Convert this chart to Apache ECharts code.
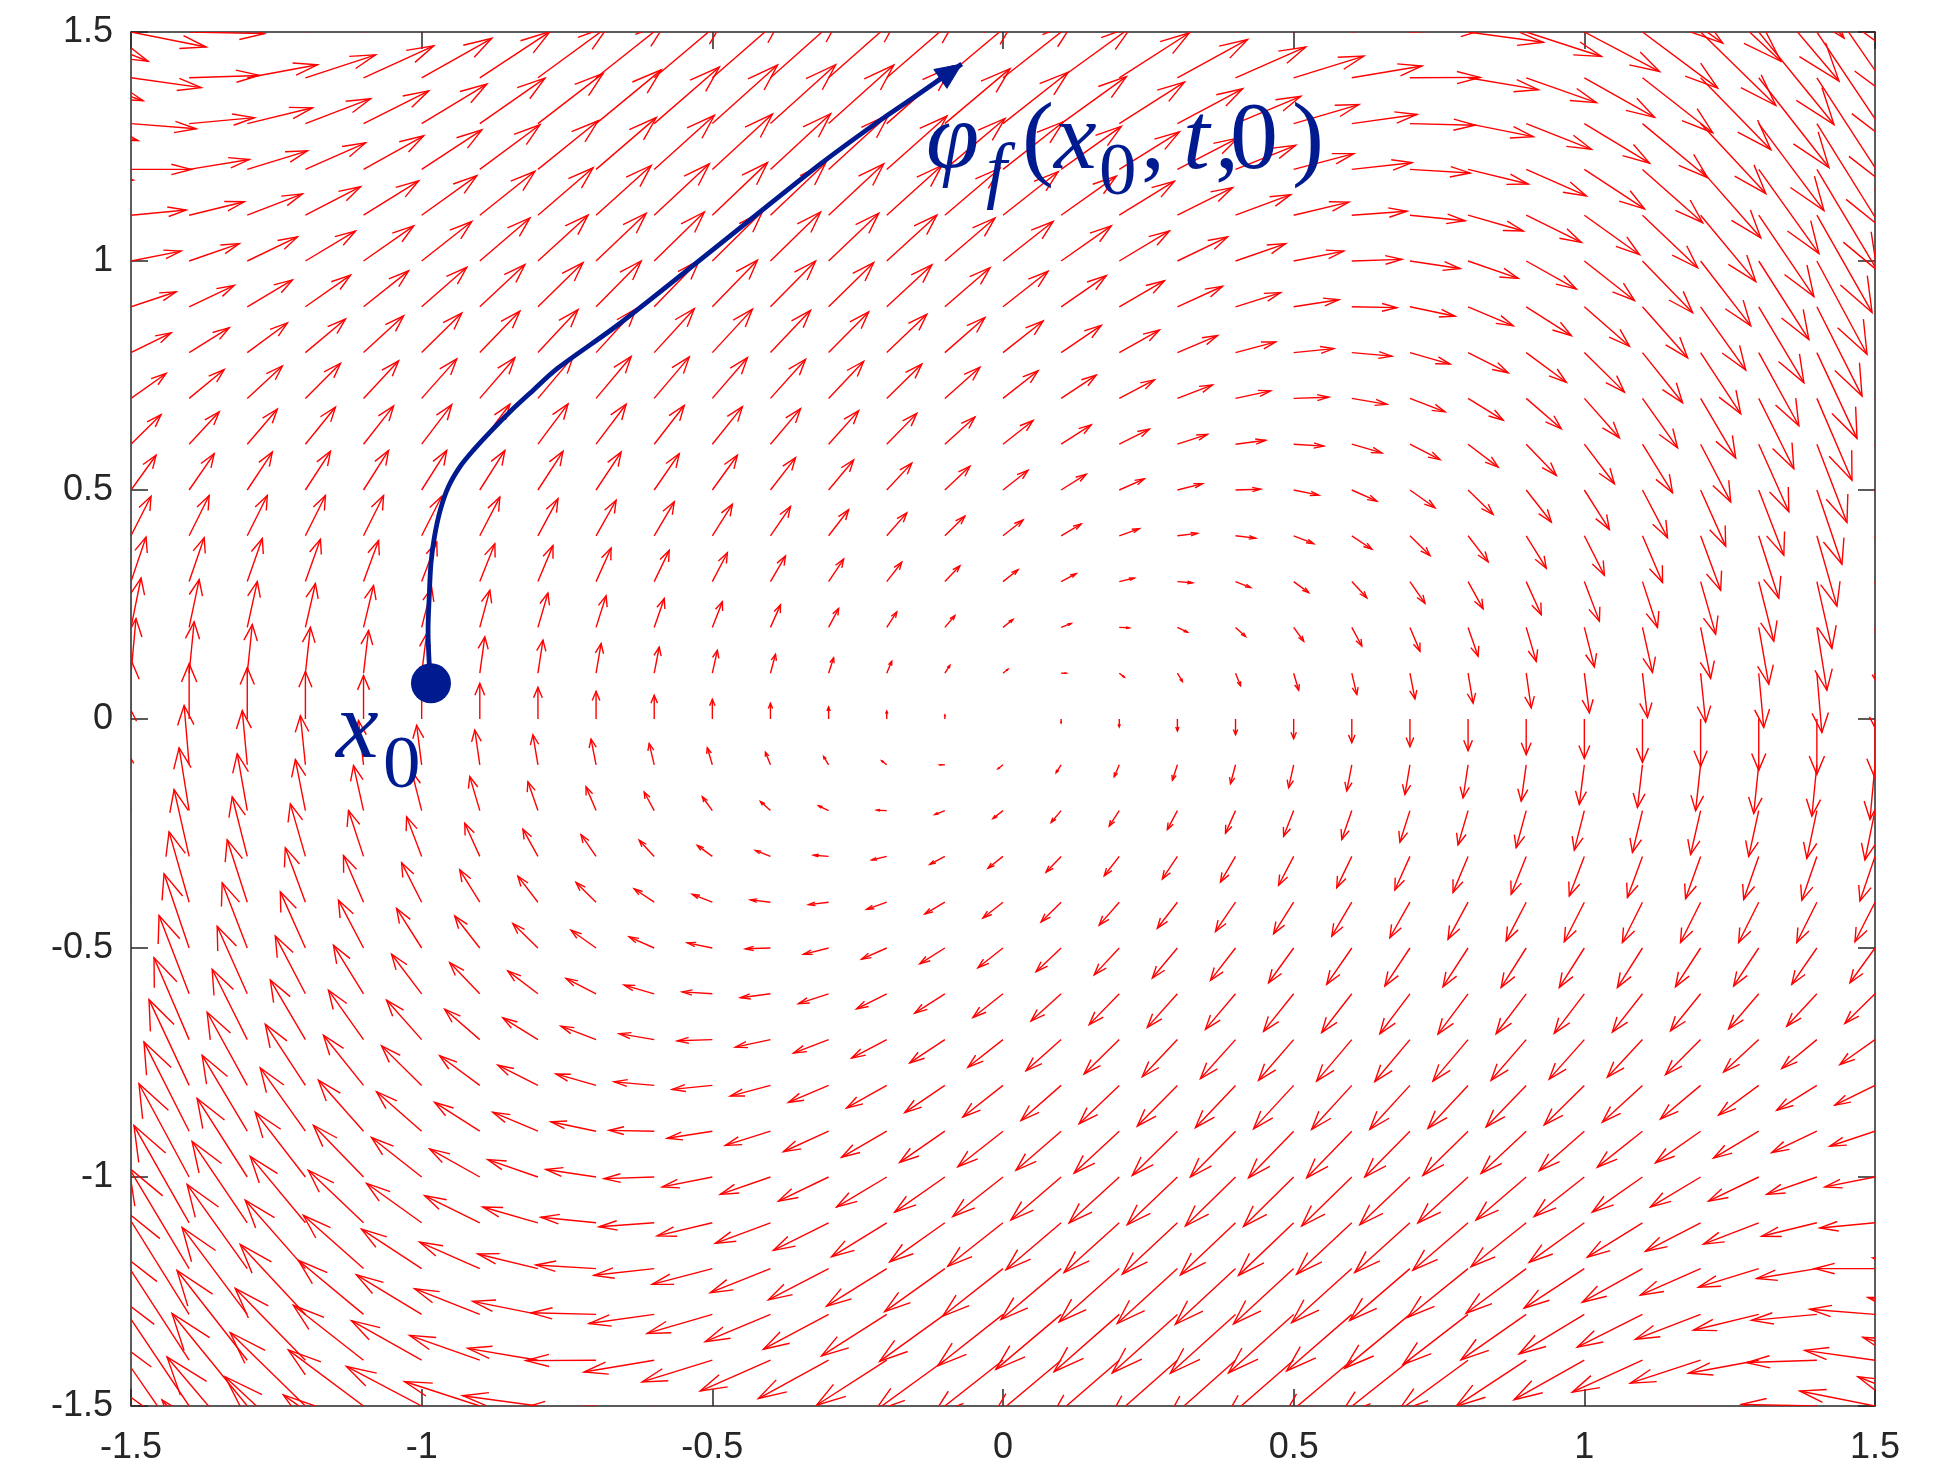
<!DOCTYPE html>
<html>
<head>
<meta charset="utf-8">
<script src="https://cdn.jsdelivr.net/npm/echarts@6/dist/echarts.min.js"></script>
<style>
html,body{margin:0;padding:0;background:#fff;}
#chart{width:1942px;height:1470px;}
</style>
</head>
<body>
<div id="chart"></div>
<script>
// ---------------- data ----------------
// tick labels
var xTicks = [-1.5, -1, -0.5, 0, 0.5, 1, 1.5];
var yTicks = [-1.5, -1, -0.5, 0, 0.5, 1, 1.5];

// quiver grid (extends slightly past the axes; arrows are clipped)
var gridX = [-1.6,-1.5,-1.4,-1.3,-1.2,-1.1,-1.0,-0.9,-0.8,-0.7,-0.6,-0.5,-0.4,-0.3,-0.2,-0.1,0,
             0.1,0.2,0.3,0.4,0.5,0.6,0.7,0.8,0.9,1.0,1.1,1.2,1.3,1.4,1.5,1.6];
var gridY = [1.8,1.7,1.6,1.5,1.4,1.3,1.2,1.1,1.0,0.9,0.8,0.7,0.6,0.5,0.4,0.3,0.2,0.1,0,
             -0.1,-0.2,-0.3,-0.4,-0.5,-0.6,-0.7,-0.8,-0.9,-1.0,-1.1,-1.2,-1.3,-1.4,-1.5,-1.6,-1.7,-1.8];

// horizontal component of the field, one value per row (constant along a row)
var uRow = [1.8,1.7,1.6,1.5,1.4,1.3,1.2,1.1,1.0,0.9,0.8,0.7,0.6,0.5,0.4,0.3,0.2,0.1,0,
            -0.1,-0.2,-0.3,-0.4,-0.5,-0.6,-0.7,-0.8,-0.9,-1.0,-1.1,-1.2,-1.3,-1.4,-1.5,-1.6,-1.7,-1.8];

// vertical component of the field, one row per gridY value, one entry per gridX value
var vField = [
 [-1.21,-0.75,-0.33,0.06,0.41,0.72,1,1.24,1.45,1.62,1.75,1.85,1.91,1.94,1.93,1.88,1.8,1.68,1.53,1.34,1.11,0.85,0.55,0.22,-0.15,-0.56,-1,-1.48,-1.99,-2.54,-3.13,-3.75,-4.41],
 [-1.05,-0.63,-0.23,0.13,0.45,0.74,1,1.22,1.41,1.57,1.69,1.78,1.83,1.85,1.83,1.78,1.7,1.58,1.43,1.25,1.03,0.78,0.49,0.17,-0.19,-0.58,-1,-1.46,-1.95,-2.47,-3.03,-3.63,-4.25],
 [-0.9,-0.5,-0.14,0.2,0.5,0.76,1,1.2,1.38,1.52,1.62,1.7,1.74,1.76,1.74,1.68,1.6,1.48,1.34,1.16,0.94,0.7,0.42,0.12,-0.22,-0.6,-1,-1.44,-1.9,-2.4,-2.94,-3.5,-4.1],
 [-0.74,-0.38,-0.04,0.27,0.54,0.79,1,1.19,1.34,1.47,1.56,1.63,1.66,1.67,1.64,1.59,1.5,1.39,1.24,1.07,0.86,0.63,0.36,0.07,-0.26,-0.62,-1,-1.42,-1.86,-2.34,-2.84,-3.38,-3.94],
 [-0.58,-0.25,0.06,0.33,0.58,0.81,1,1.17,1.3,1.41,1.5,1.55,1.58,1.57,1.54,1.49,1.4,1.29,1.14,0.97,0.78,0.55,0.3,0.01,-0.3,-0.63,-1,-1.39,-1.82,-2.27,-2.74,-3.25,-3.78],
 [-0.43,-0.13,0.15,0.4,0.63,0.83,1,1.15,1.27,1.36,1.43,1.48,1.49,1.48,1.45,1.39,1.3,1.19,1.05,0.88,0.69,0.48,0.23,-0.04,-0.33,-0.65,-1,-1.37,-1.77,-2.2,-2.65,-3.13,-3.63],
 [-0.27,0,0.25,0.47,0.67,0.85,1,1.13,1.23,1.31,1.37,1.4,1.41,1.39,1.35,1.29,1.2,1.09,0.95,0.79,0.61,0.4,0.17,-0.09,-0.37,-0.67,-1,-1.35,-1.73,-2.13,-2.55,-3,-3.47],
 [-0.12,0.13,0.34,0.54,0.72,0.87,1,1.11,1.2,1.26,1.3,1.33,1.32,1.3,1.26,1.19,1.1,0.99,0.86,0.7,0.52,0.33,0.1,-0.14,-0.4,-0.69,-1,-1.33,-1.68,-2.06,-2.46,-2.88,-3.32],
 [0.04,0.25,0.44,0.61,0.76,0.89,1,1.09,1.16,1.21,1.24,1.25,1.24,1.21,1.16,1.09,1,0.89,0.76,0.61,0.44,0.25,0.04,-0.19,-0.44,-0.71,-1,-1.31,-1.64,-1.99,-2.36,-2.75,-3.16],
 [0.2,0.38,0.54,0.68,0.8,0.91,1,1.07,1.12,1.16,1.18,1.18,1.16,1.12,1.06,0.99,0.9,0.79,0.66,0.52,0.36,0.18,-0.02,-0.24,-0.48,-0.73,-1,-1.29,-1.6,-1.92,-2.26,-2.63,-3],
 [0.35,0.5,0.63,0.75,0.85,0.93,1,1.05,1.09,1.11,1.11,1.1,1.07,1.03,0.97,0.89,0.8,0.69,0.57,0.43,0.27,0.1,-0.09,-0.29,-0.51,-0.75,-1,-1.27,-1.55,-1.85,-2.17,-2.5,-2.85],
 [0.51,0.63,0.73,0.82,0.89,0.95,1,1.03,1.05,1.06,1.05,1.03,0.99,0.94,0.87,0.79,0.7,0.59,0.47,0.34,0.19,0.03,-0.15,-0.34,-0.55,-0.77,-1,-1.25,-1.51,-1.78,-2.07,-2.38,-2.69],
 [0.66,0.75,0.82,0.89,0.94,0.97,1,1.01,1.02,1.01,0.98,0.95,0.9,0.85,0.78,0.69,0.6,0.49,0.38,0.25,0.1,-0.05,-0.22,-0.39,-0.58,-0.79,-1,-1.23,-1.46,-1.71,-1.98,-2.25,-2.54],
 [0.82,0.88,0.92,0.96,0.98,1,1,1,0.98,0.96,0.92,0.88,0.82,0.76,0.68,0.6,0.5,0.4,0.28,0.16,0.02,-0.13,-0.28,-0.45,-0.62,-0.81,-1,-1.21,-1.42,-1.65,-1.88,-2.13,-2.38],
 [0.98,1,1.02,1.02,1.02,1.02,1,0.98,0.94,0.9,0.86,0.8,0.74,0.66,0.58,0.5,0.4,0.3,0.18,0.06,-0.06,-0.2,-0.34,-0.5,-0.66,-0.82,-1,-1.18,-1.38,-1.58,-1.78,-2,-2.22],
 [1.13,1.13,1.11,1.09,1.07,1.04,1,0.96,0.91,0.85,0.79,0.73,0.65,0.57,0.49,0.4,0.3,0.2,0.09,-0.03,-0.15,-0.28,-0.41,-0.55,-0.69,-0.84,-1,-1.16,-1.33,-1.51,-1.69,-1.88,-2.07],
 [1.29,1.25,1.21,1.16,1.11,1.06,1,0.94,0.87,0.8,0.73,0.65,0.57,0.48,0.39,0.3,0.2,0.1,-0.01,-0.12,-0.23,-0.35,-0.47,-0.6,-0.73,-0.86,-1,-1.14,-1.29,-1.44,-1.59,-1.75,-1.91],
 [1.44,1.38,1.3,1.23,1.16,1.08,1,0.92,0.84,0.75,0.66,0.58,0.48,0.39,0.3,0.2,0.1,0,-0.1,-0.21,-0.32,-0.43,-0.54,-0.65,-0.76,-0.88,-1,-1.12,-1.24,-1.37,-1.5,-1.63,-1.76],
 [1.6,1.5,1.4,1.3,1.2,1.1,1,0.9,0.8,0.7,0.6,0.5,0.4,0.3,0.2,0.1,0,-0.1,-0.2,-0.3,-0.4,-0.5,-0.6,-0.7,-0.8,-0.9,-1,-1.1,-1.2,-1.3,-1.4,-1.5,-1.6],
 [1.76,1.63,1.5,1.37,1.24,1.12,1,0.88,0.76,0.65,0.54,0.43,0.32,0.21,0.1,0,-0.1,-0.2,-0.3,-0.39,-0.48,-0.58,-0.66,-0.75,-0.84,-0.92,-1,-1.08,-1.16,-1.23,-1.3,-1.38,-1.44],
 [1.91,1.75,1.59,1.44,1.29,1.14,1,0.86,0.73,0.6,0.47,0.35,0.23,0.12,0.01,-0.1,-0.2,-0.3,-0.39,-0.48,-0.57,-0.65,-0.73,-0.8,-0.87,-0.94,-1,-1.06,-1.11,-1.16,-1.21,-1.25,-1.29],
 [2.07,1.88,1.69,1.51,1.33,1.16,1,0.84,0.69,0.55,0.41,0.28,0.15,0.03,-0.09,-0.2,-0.3,-0.4,-0.49,-0.57,-0.65,-0.73,-0.79,-0.85,-0.91,-0.96,-1,-1.04,-1.07,-1.09,-1.11,-1.13,-1.13],
 [2.22,2,1.78,1.58,1.38,1.18,1,0.82,0.66,0.5,0.34,0.2,0.06,-0.06,-0.18,-0.3,-0.4,-0.5,-0.58,-0.66,-0.74,-0.8,-0.86,-0.9,-0.94,-0.98,-1,-1.02,-1.02,-1.02,-1.02,-1,-0.98],
 [2.38,2.13,1.88,1.65,1.42,1.21,1,0.81,0.62,0.45,0.28,0.13,-0.02,-0.16,-0.28,-0.4,-0.5,-0.6,-0.68,-0.76,-0.82,-0.88,-0.92,-0.96,-0.98,-1,-1,-1,-0.98,-0.96,-0.92,-0.88,-0.82],
 [2.54,2.25,1.98,1.71,1.46,1.23,1,0.79,0.58,0.39,0.22,0.05,-0.1,-0.25,-0.38,-0.49,-0.6,-0.69,-0.78,-0.85,-0.9,-0.95,-0.98,-1.01,-1.02,-1.01,-1,-0.97,-0.94,-0.89,-0.82,-0.75,-0.66],
 [2.69,2.38,2.07,1.78,1.51,1.25,1,0.77,0.55,0.34,0.15,-0.03,-0.19,-0.34,-0.47,-0.59,-0.7,-0.79,-0.87,-0.94,-0.99,-1.03,-1.05,-1.06,-1.05,-1.03,-1,-0.95,-0.89,-0.82,-0.73,-0.63,-0.51],
 [2.85,2.5,2.17,1.85,1.55,1.27,1,0.75,0.51,0.29,0.09,-0.1,-0.27,-0.43,-0.57,-0.69,-0.8,-0.89,-0.97,-1.03,-1.07,-1.1,-1.11,-1.11,-1.09,-1.05,-1,-0.93,-0.85,-0.75,-0.63,-0.5,-0.35],
 [3,2.63,2.26,1.92,1.6,1.29,1,0.73,0.48,0.24,0.02,-0.18,-0.36,-0.52,-0.66,-0.79,-0.9,-0.99,-1.06,-1.12,-1.16,-1.18,-1.18,-1.16,-1.12,-1.07,-1,-0.91,-0.8,-0.68,-0.54,-0.38,-0.2],
 [3.16,2.75,2.36,1.99,1.64,1.31,1,0.71,0.44,0.19,-0.04,-0.25,-0.44,-0.61,-0.76,-0.89,-1,-1.09,-1.16,-1.21,-1.24,-1.25,-1.24,-1.21,-1.16,-1.09,-1,-0.89,-0.76,-0.61,-0.44,-0.25,-0.04],
 [3.32,2.88,2.46,2.06,1.68,1.33,1,0.69,0.4,0.14,-0.1,-0.33,-0.52,-0.7,-0.86,-0.99,-1.1,-1.19,-1.26,-1.3,-1.32,-1.33,-1.3,-1.26,-1.2,-1.11,-1,-0.87,-0.72,-0.54,-0.34,-0.13,0.12],
 [3.47,3,2.55,2.13,1.73,1.35,1,0.67,0.37,0.09,-0.17,-0.4,-0.61,-0.79,-0.95,-1.09,-1.2,-1.29,-1.35,-1.39,-1.41,-1.4,-1.37,-1.31,-1.23,-1.13,-1,-0.85,-0.67,-0.47,-0.25,0,0.27],
 [3.63,3.13,2.65,2.2,1.77,1.37,1,0.65,0.33,0.04,-0.23,-0.48,-0.69,-0.88,-1.05,-1.19,-1.3,-1.39,-1.45,-1.48,-1.49,-1.48,-1.43,-1.36,-1.27,-1.15,-1,-0.83,-0.63,-0.4,-0.15,0.13,0.43],
 [3.78,3.25,2.74,2.27,1.82,1.39,1,0.63,0.3,-0.01,-0.3,-0.55,-0.78,-0.97,-1.14,-1.29,-1.4,-1.49,-1.54,-1.57,-1.58,-1.55,-1.5,-1.41,-1.3,-1.17,-1,-0.81,-0.58,-0.33,-0.06,0.25,0.58],
 [3.94,3.38,2.84,2.34,1.86,1.42,1,0.62,0.26,-0.07,-0.36,-0.63,-0.86,-1.07,-1.24,-1.39,-1.5,-1.59,-1.64,-1.67,-1.66,-1.63,-1.56,-1.47,-1.34,-1.19,-1,-0.79,-0.54,-0.27,0.04,0.38,0.74],
 [4.1,3.5,2.94,2.4,1.9,1.44,1,0.6,0.22,-0.12,-0.42,-0.7,-0.94,-1.16,-1.34,-1.48,-1.6,-1.68,-1.74,-1.76,-1.74,-1.7,-1.62,-1.52,-1.38,-1.2,-1,-0.76,-0.5,-0.2,0.14,0.5,0.9],
 [4.25,3.63,3.03,2.47,1.95,1.46,1,0.58,0.19,-0.17,-0.49,-0.78,-1.03,-1.25,-1.43,-1.58,-1.7,-1.78,-1.83,-1.85,-1.83,-1.78,-1.69,-1.57,-1.41,-1.22,-1,-0.74,-0.45,-0.13,0.23,0.63,1.05],
 [4.41,3.75,3.13,2.54,1.99,1.48,1,0.56,0.15,-0.22,-0.55,-0.85,-1.11,-1.34,-1.53,-1.68,-1.8,-1.88,-1.93,-1.94,-1.91,-1.85,-1.75,-1.62,-1.45,-1.24,-1,-0.72,-0.41,-0.06,0.33,0.75,1.21]
];

// trajectory phi_f(x0, t, 0), starting at x0
var trajX = [-0.984,-0.987,-0.989,-0.987,-0.984,-0.978,-0.968,-0.954,-0.934,-0.911,-0.882,-0.848,-0.808,-0.768,-0.665,-0.55,-0.435,-0.32,-0.263,-0.206,-0.148,-0.071];
var trajY = [0.078,0.122,0.194,0.267,0.34,0.398,0.456,0.507,0.551,0.587,0.627,0.671,0.718,0.764,0.858,0.973,1.09,1.206,1.26,1.312,1.362,1.43];

// ---------------- styling ----------------
var RED = '#ff0000';
var NAVY = '#001a8f';
var AXIS = '#262626';
var QSCALE = 0.0863;     // quiver arrow length scale
var HEAD_A = 0.33, HEAD_B = 0.33;

var quiverData = [];
for (var i = 0; i < gridY.length; i++) {
  for (var j = 0; j < gridX.length; j++) {
    quiverData.push([gridX[j], gridY[i], uRow[i], vField[i][j]]);
  }
}
var trajData = trajX.map(function (x, k) { return [x, trajY[k]]; });
var n = trajX.length;
var headData = [[trajX[n - 1], trajY[n - 1], trajX[n - 2], trajY[n - 2]]];

function axisCommon(pos, showLabel) {
  return {
    type: 'value', position: pos, min: -1.5, max: 1.5, interval: 0.5,
    axisLine: { show: true, onZero: false, lineStyle: { color: AXIS, width: 1.5 } },
    axisTick: { show: true, inside: true, length: 17, lineStyle: { color: AXIS, width: 1.5 } },
    splitLine: { show: false },
    axisLabel: { show: showLabel, color: AXIS, fontSize: 36, fontFamily: '"Liberation Sans", Arial, Helvetica, sans-serif' }
  };
}
var xBottom = axisCommon('bottom', true); xBottom.axisLabel.margin = 24;
var xTop = axisCommon('top', false);
var yLeft = axisCommon('left', true); yLeft.axisLabel.margin = 18;
var yRight = axisCommon('right', false);

var serifI = 'italic 96px "Liberation Serif", "Times New Roman", serif';
var serifN = '96px "Liberation Serif", "Times New Roman", serif';
var subI = 'italic 75px "Liberation Serif", "Times New Roman", serif';
var subN = '75px "Liberation Serif", "Times New Roman", serif';
function txt(t, x, y, font) {
  return { type: 'text', x: x, y: y, z: 100,
    style: { text: t, font: font, fill: NAVY, align: 'left', verticalAlign: 'middle' } };
}

var chart = echarts.init(document.getElementById('chart'), null, { renderer: 'canvas' });
chart.setOption({
  animation: false,
  backgroundColor: '#ffffff',
  grid: { left: 131, top: 32, right: 67, bottom: 64, containLabel: false },
  xAxis: [xBottom, xTop],
  yAxis: [yLeft, yRight],
  series: [
    {
      type: 'custom', name: 'field', xAxisIndex: 0, yAxisIndex: 0, clip: true, silent: true,
      encode: { x: 0, y: 1 },
      data: quiverData,
      renderItem: function (params, api) {
        var x = api.value(0), y = api.value(1);
        var u = api.value(2) * QSCALE, v = api.value(3) * QSCALE;
        var p0 = api.coord([x, y]);
        var p1 = api.coord([x + u, y + v]);
        var ha = api.coord([x + u - HEAD_A * (u + HEAD_B * v), y + v - HEAD_A * (v - HEAD_B * u)]);
        var hb = api.coord([x + u - HEAD_A * (u - HEAD_B * v), y + v - HEAD_A * (v + HEAD_B * u)]);
        var st = { stroke: RED, lineWidth: 1.4, fill: null };
        return { type: 'group', children: [
          { type: 'polyline', shape: { points: [p0, p1] }, style: st },
          { type: 'polyline', shape: { points: [ha, p1, hb] }, style: st }
        ] };
      }
    },
    {
      type: 'line', name: 'trajectory', xAxisIndex: 0, yAxisIndex: 0,
      data: trajData, smooth: 0.3, showSymbol: false, symbol: 'none',
      lineStyle: { color: NAVY, width: 4.8 }, silent: true, z: 5
    },
    {
      type: 'custom', name: 'head', xAxisIndex: 0, yAxisIndex: 0, silent: true, z: 6,
      encode: { x: 0, y: 1 },
      data: headData,
      renderItem: function (params, api) {
        var tip = api.coord([api.value(0), api.value(1)]);
        var prev = api.coord([api.value(2), api.value(3)]);
        var dx = tip[0] - prev[0], dy = tip[1] - prev[1];
        var L = Math.sqrt(dx * dx + dy * dy); dx /= L; dy /= L;
        var len = 26, hw = 11.5;
        var bx = tip[0] - dx * len, by = tip[1] - dy * len;
        return { type: 'polygon', shape: { points: [tip, [bx - dy * hw, by + dx * hw], [bx + dy * hw, by - dx * hw]] },
          style: { fill: NAVY, stroke: NAVY, lineWidth: 1 } };
      }
    },
    {
      type: 'scatter', name: 'x0', xAxisIndex: 0, yAxisIndex: 0, silent: true, z: 7,
      data: [trajData[0]], symbol: 'circle', symbolSize: 40,
      itemStyle: { color: NAVY, opacity: 1 }
    }
  ],
  graphic: [
    // x_0 label
    txt('x', 336, 732, serifI),
    txt('0', 383, 767, subN),
    // phi_f(x_0, t,0) label
    txt('\u03c6', 926, 143, serifI),
    txt('f', 986, 174, subI),
    txt('(', 1022, 143, serifN),
    txt('x', 1054, 143, serifI),
    txt('0', 1099, 174, subN),
    txt(',', 1141, 143, serifN),
    txt('t', 1183, 143, serifI),
    txt(',', 1215, 143, serifN),
    txt('0', 1230, 143, serifN),
    txt(')', 1292, 143, serifN)
  ]
});
</script>
</body>
</html>
